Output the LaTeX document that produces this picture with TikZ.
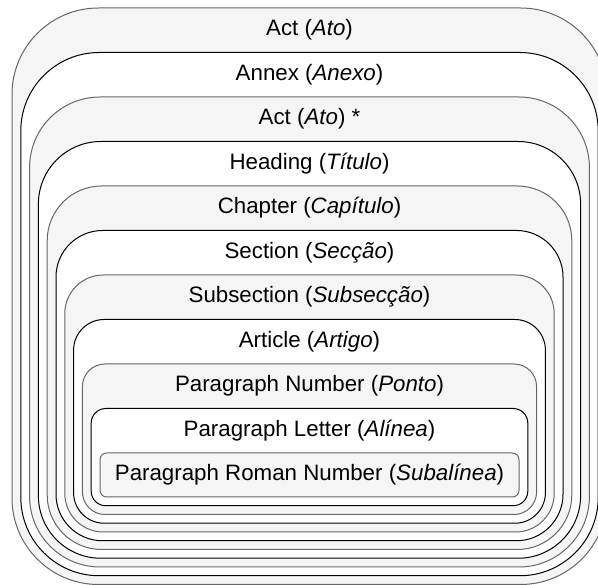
\documentclass[tikz,border=0pt]{standalone}
\usepackage{fontspec}
\setmainfont{Liberation Sans}
\definecolor{boxgrey}{HTML}{F5F5F5}
\definecolor{linegrey}{HTML}{666666}
\tikzset{
  layer/.style={shape=rectangle, inner sep=0pt, outer sep=0pt, line width=1pt},
  greylayer/.style={layer, draw=linegrey, fill=boxgrey},
  whitelayer/.style={layer, draw=black, fill=white},
  lab/.style={inner sep=0pt, font=\fontsize{22.3}{26}\selectfont, anchor=center}
}
\begin{document}
\begin{tikzpicture}[x=1pt,y=-1pt]
\useasboundingbox (0,0) rectangle (598,585);
\clip (0,0) rectangle (598,585);
\foreach \i/\st/\txt in {
  0/greylayer/{Act (\textit{Ato})},
  1/whitelayer/{Annex (\textit{Anexo})},
  2/greylayer/{Act (\textit{Ato}) *},
  3/whitelayer/{Heading (\textit{Título})},
  4/greylayer/{Chapter (\textit{Capítulo})},
  5/whitelayer/{Section (\textit{Secção})},
  6/greylayer/{Subsection (\textit{Subsecção})},
  7/whitelayer/{Article (\textit{Artigo})},
  8/greylayer/{Paragraph Number (\textit{Ponto})},
  9/whitelayer/{Paragraph Letter (\textit{Alínea})},
  10/greylayer/{Paragraph Roman Number (\textit{Subalínea})}} {
  \pgfmathsetmacro{\w}{595-17.6*\i}
  \pgfmathsetmacro{\h}{576.5-53.25*\i}
  \pgfmathsetmacro{\cy}{296.25+17.875*\i}
  \pgfmathsetmacro{\rr}{0.15*\h}
  \pgfmathsetmacro{\ly}{30+44.5*\i}
  \node[\st, minimum width=\w pt, minimum height=\h pt, rounded corners=\rr pt] (box\i) at (309.5,\cy) {};
  \node[lab] (lab\i) at (309.5,\ly) {\txt};
}
\end{tikzpicture}
\end{document}
